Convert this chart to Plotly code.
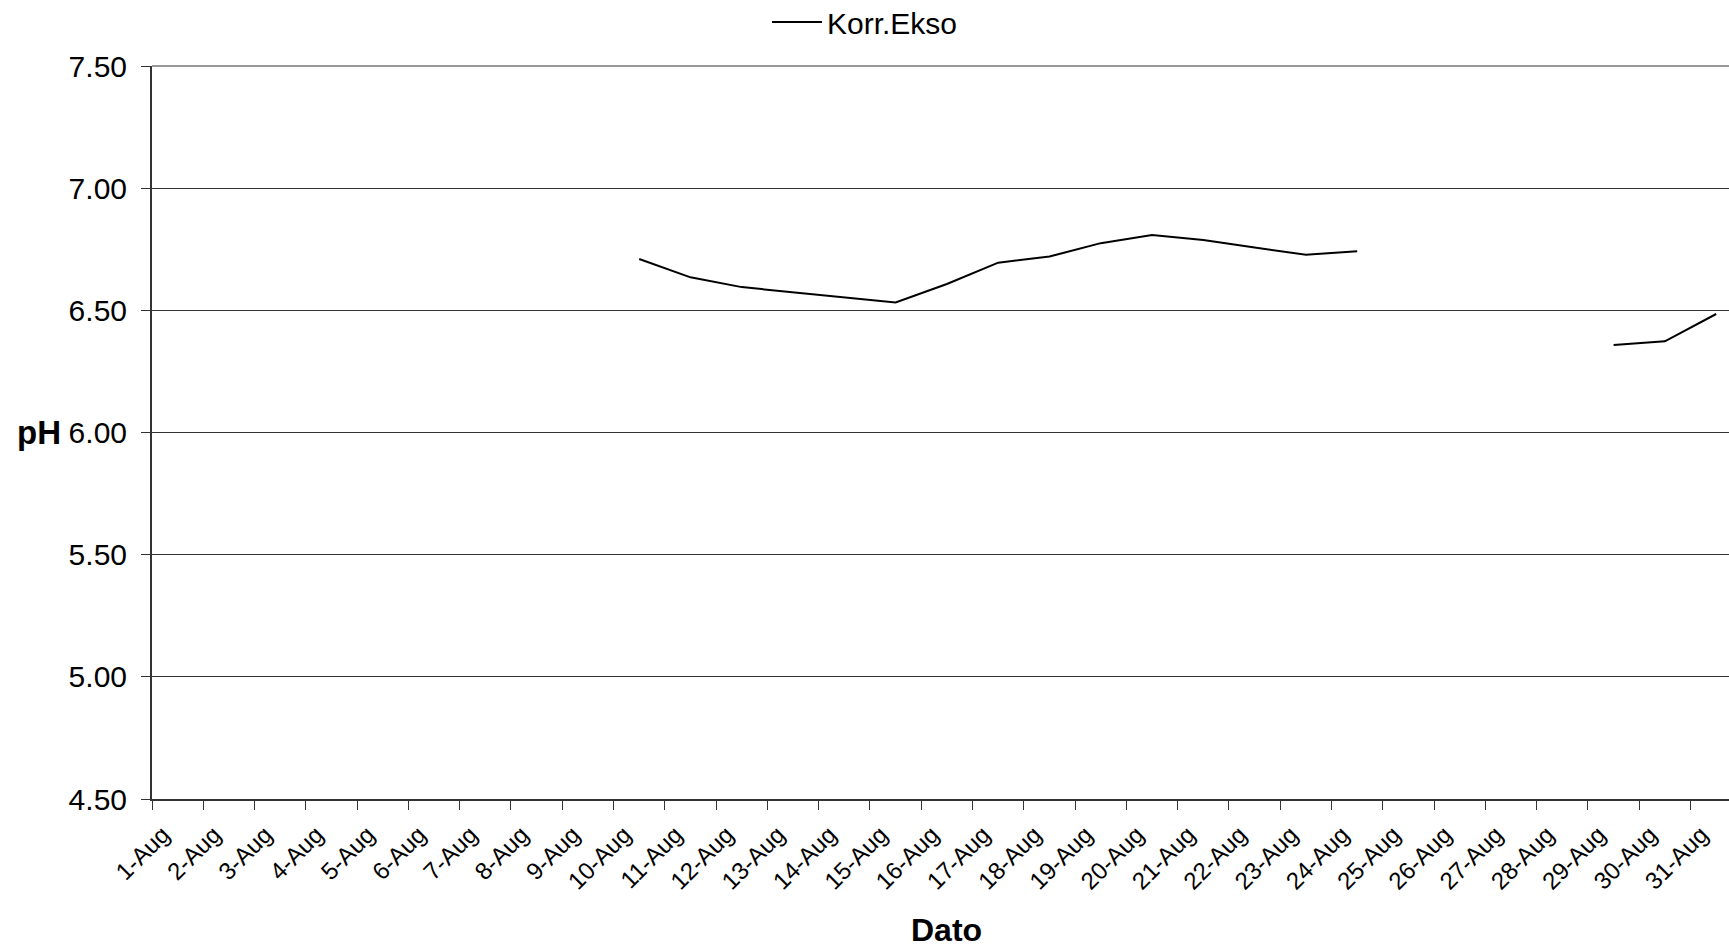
import plotly.graph_objects as go

dates = ["1-Aug", "2-Aug", "3-Aug", "4-Aug", "5-Aug", "6-Aug", "7-Aug", "8-Aug",
         "9-Aug", "10-Aug", "11-Aug", "12-Aug", "13-Aug", "14-Aug", "15-Aug",
         "16-Aug", "17-Aug", "18-Aug", "19-Aug", "20-Aug", "21-Aug", "22-Aug",
         "23-Aug", "24-Aug", "25-Aug", "26-Aug", "27-Aug", "28-Aug", "29-Aug",
         "30-Aug", "31-Aug"]

ph_korr_ekso = [None, None, None, None, None, None, None, None, None,
                6.71, 6.635, 6.595, 6.575, 6.555, 6.532, 6.608, 6.695, 6.72,
                6.775, 6.808, 6.788, 6.757, 6.728, 6.742,
                None, None, None, None,
                6.358, 6.373, 6.485]

series_name = "Korr.Ekso"
y_ticks = [4.5, 5.0, 5.5, 6.0, 6.5, 7.0, 7.5]

FONT = "Liberation Sans, Arial, sans-serif"

W, H = 1729, 949
ML, MR, MT, MB = 152, 0, 66, 150
plot_w = W - ML - MR
plot_h = H - MT - MB

fig = go.Figure()
fig.add_trace(go.Scatter(
    x=dates, y=ph_korr_ekso, mode="lines", name=series_name,
    line=dict(color="black", width=2), connectgaps=False,
))

fig.update_layout(
    width=W, height=H,
    margin=dict(l=ML, r=MR, t=MT, b=MB, autoexpand=False),
    paper_bgcolor="white", plot_bgcolor="white",
    font=dict(family=FONT, color="black"),
    showlegend=True,
    legend=dict(orientation="h", xref="container", yref="container",
                x=767 / W, xanchor="left", y=1 - 22 / H, yanchor="middle",
                font=dict(size=30, family=FONT), itemwidth=50,
                bgcolor="rgba(0,0,0,0)"),
    xaxis=dict(
        type="category", range=[-0.5, 30.25], tickson="boundaries",
        ticks="outside", ticklen=9, tickcolor="#333333", tickwidth=1,
        showline=True, linecolor="#333333", linewidth=2,
        showgrid=False, tickangle=-45, tickfont=dict(size=24, family=FONT),
        zeroline=False, automargin=False, ticklabelshift=-15,
        ticklabelstandoff=10,
    ),
    yaxis=dict(
        range=[4.5, 7.5], tickvals=y_ticks, tickformat=".2f",
        ticks="outside", ticklen=9, tickcolor="#333333", tickwidth=1,
        showline=True, linecolor="#333333", linewidth=2,
        showgrid=True, gridcolor="#333333", gridwidth=1,
        tickfont=dict(size=30, family=FONT), zeroline=False,
        ticklabelstandoff=8, automargin=False,
    ),
    shapes=[
        dict(type="line", xref="paper", yref="paper", x0=0, x1=1, y0=1, y1=1,
             line=dict(color="#999999", width=2), layer="above"),
    ],
    annotations=[
        dict(text="<b>pH</b>", xref="paper", yref="paper",
             x=(39 - ML) / plot_w, y=(H - MB - 432) / plot_h,
             xanchor="center", yanchor="middle", showarrow=False,
             font=dict(size=33, family=FONT)),
        dict(text="<b>Dato</b>", xref="paper", yref="paper",
             x=(946 - ML) / plot_w, y=(H - MB - 930) / plot_h,
             xanchor="center", yanchor="middle", showarrow=False,
             font=dict(size=32, family=FONT), borderpad=0),
    ],
)

fig.write_html("out.html", config={"displayModeBar": False},
               post_script="document.body.style.margin='0';document.body.style.overflow='hidden';")
